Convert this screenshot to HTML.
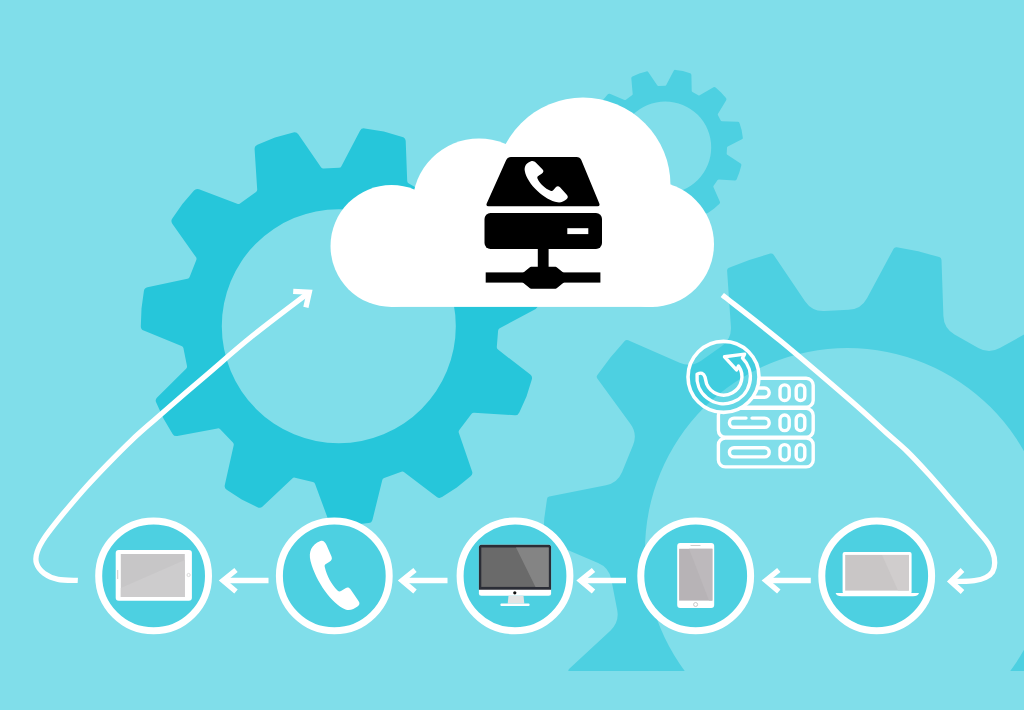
<!DOCTYPE html><html><head><meta charset="utf-8"><title>Cloud telephony</title><style>html,body{margin:0;padding:0;background:#80deea;overflow:hidden}svg{display:block}</style></head><body><svg width="1024" height="710" viewBox="0 0 1024 710"><clipPath id="clipR"><rect x="0" y="0" width="1024" height="671"/></clipPath>
<path clip-path="url(#clipR)" fill="#4dd0e1" fill-rule="evenodd" d="M848.8,309.8 Q861.2,309.1 867.0,298.2 L893.6,248.7 Q894.6,246.8 896.8,247.2 L918.2,251.3 L939.2,257.1 Q941.4,257.7 941.5,259.9 L943.4,316.1 Q943.8,328.4 954.5,334.5 L978.3,347.9 Q989.0,354.0 999.8,348.0 L1049.0,320.7 Q1050.9,319.6 1052.5,321.1 L1068.3,336.1 L1082.9,352.4 Q1084.3,354.0 1083.2,355.9 L1054.4,404.3 Q1048.2,414.9 1053.8,425.7 L1067.5,451.9 Q1073.1,462.8 1085.4,463.7 L1141.5,467.7 Q1143.7,467.9 1144.2,470.1 L1149.2,491.3 L1152.5,512.9 Q1152.8,515.1 1150.8,516.0 L1100.3,540.7 Q1089.2,546.1 1088.1,558.4 L1085.5,585.5 Q1084.3,597.8 1094.2,605.2 L1139.1,639.0 Q1140.9,640.3 1140.2,642.4 L1132.9,662.9 L1124.0,682.9 Q1123.1,684.9 1120.9,684.6 L1065.0,678.1 Q1052.8,676.6 1045.2,686.3 L1028.3,707.8 Q1020.7,717.5 1025.0,729.0 L1044.6,781.7 Q1045.3,783.8 1043.6,785.2 L1026.3,798.5 L1008.1,810.5 Q1006.2,811.7 1004.5,810.3 L961.1,774.6 Q951.6,766.7 939.9,770.8 L914.1,779.7 Q902.5,783.7 899.8,795.8 L887.8,850.7 Q887.3,852.9 885.1,853.0 L863.4,854.9 L841.6,855.1 Q839.4,855.2 838.7,853.1 L821.5,799.5 Q817.7,787.8 805.7,784.9 L779.2,778.5 Q767.2,775.6 758.5,784.3 L718.7,824.0 Q717.1,825.5 715.1,824.5 L695.8,814.3 L677.4,802.7 Q675.5,801.5 676.1,799.4 L690.5,745.1 Q693.7,733.1 685.1,724.2 L667.7,706.1 Q659.1,697.2 647.0,699.9 L592.2,712.3 Q590.1,712.8 589.0,710.9 L578.0,692.0 L568.6,672.3 Q567.7,670.3 569.3,668.8 L610.6,630.4 Q619.5,622.1 617.2,610.1 L611.2,578.9 Q608.9,567.4 598.1,562.9 L544.9,540.3 Q542.9,539.5 543.1,537.4 L544.3,518.2 L547.0,499.1 Q547.2,497.0 549.3,496.6 L606.0,485.3 Q617.6,483.0 622.1,472.1 L633.0,445.3 Q637.7,433.9 630.5,424.0 L597.3,378.5 Q596.0,376.7 597.4,375.0 L610.4,357.5 L624.7,341.0 Q626.1,339.3 628.2,340.2 L679.6,362.8 Q690.9,367.8 701.1,360.7 L721.6,346.3 Q731.7,339.2 730.9,326.8 L727.1,270.8 Q726.9,268.6 729.0,267.8 L749.3,259.9 L770.2,253.6 Q772.4,253.0 773.6,254.8 L805.0,301.3 Q812.0,311.6 824.4,311.0Z M645.0,550.5 a202.5,202.5 0 1,0 405.0,0 a202.5,202.5 0 1,0 -405.0,0Z"/>
<path fill="#4dd0e1" fill-rule="evenodd" d="M665.1,85.7 Q666.0,85.6 666.4,84.8 L673.7,70.8 Q674.3,69.6 675.6,69.9 L682.9,71.1 L690.1,73.2 Q691.3,73.6 691.4,74.9 L691.7,90.7 Q691.8,91.6 692.5,92.0 L698.3,95.2 Q699.0,95.7 699.7,95.2 L713.5,87.3 Q714.6,86.7 715.6,87.5 L721.1,92.5 L726.0,98.1 Q726.8,99.1 726.2,100.2 L718.0,113.8 Q717.5,114.6 718.0,115.3 L720.7,120.4 Q721.2,121.2 722.0,121.2 L737.9,121.7 Q739.2,121.7 739.5,123.0 L741.6,130.1 L742.8,137.4 Q743.0,138.7 741.9,139.3 L727.8,146.6 Q727.0,147.0 727.0,147.8 L726.7,153.4 Q726.6,154.3 727.3,154.8 L740.6,163.5 Q741.7,164.2 741.3,165.5 L739.3,172.6 L736.6,179.5 Q736.1,180.7 734.7,180.6 L718.9,179.4 Q718.1,179.4 717.6,180.1 L713.6,185.7 Q713.1,186.4 713.5,187.2 L719.9,201.7 Q720.5,202.9 719.5,203.7 L713.9,208.7 L707.9,213.0 Q706.8,213.7 705.7,212.9 L693.1,203.4 Q692.4,202.9 691.6,203.2 L685.0,205.9 Q684.2,206.2 684.1,207.0 L681.6,222.7 Q681.4,224.0 680.1,224.2 L672.8,225.3 L665.4,225.6 Q664.1,225.7 663.6,224.5 L658.2,209.5 Q657.9,208.8 657.1,208.6 L648.2,206.7 Q647.3,206.6 646.8,207.2 L635.8,218.6 Q634.9,219.6 633.7,219.0 L627.0,215.8 L620.8,211.8 Q619.7,211.1 620.0,209.8 L624.0,194.5 Q624.2,193.7 623.6,193.1 L618.8,188.1 Q618.2,187.5 617.4,187.7 L602.0,191.4 Q600.7,191.8 600.0,190.6 L596.1,184.3 L593.0,177.6 Q592.5,176.4 593.4,175.5 L605.1,164.7 Q605.7,164.2 605.5,163.3 L604.1,156.6 Q604.0,155.7 603.2,155.5 L588.2,150.3 Q586.9,149.8 587.0,148.5 L587.2,141.1 L588.2,133.7 Q588.3,132.4 589.6,132.2 L605.3,129.5 Q606.1,129.4 606.4,128.6 L608.9,122.1 Q609.2,121.3 608.7,120.6 L598.9,108.2 Q598.0,107.1 598.8,106.0 L603.0,99.9 L607.8,94.3 Q608.6,93.3 609.8,93.8 L624.5,99.9 Q625.2,100.3 625.9,99.8 L632.0,95.3 Q632.7,94.8 632.7,94.0 L631.3,78.2 Q631.2,76.9 632.4,76.4 L639.3,73.5 L646.4,71.4 Q647.7,71.1 648.4,72.2 L657.2,85.3 Q657.7,86.1 658.6,86.0Z M619.2,147.4 a46.0,46.0 0 1,0 92.0,0 a46.0,46.0 0 1,0 -92.0,0Z"/>
<path fill="#26c6da" fill-rule="evenodd" d="M339.0,167.8 Q340.7,167.7 341.4,166.2 L360.0,130.8 Q361.5,127.9 364.7,128.4 L383.8,131.6 L402.4,136.9 Q405.5,137.8 405.7,141.0 L407.2,181.0 Q407.3,182.7 408.8,183.5 L425.9,193.2 Q427.3,193.9 428.7,193.2 L465.1,174.6 Q467.9,173.2 470.2,175.3 L483.2,187.4 L494.8,200.7 Q496.9,203.1 495.4,205.9 L475.6,241.6 Q474.8,243.0 475.6,244.5 L484.1,260.7 Q484.8,262.1 486.4,262.3 L527.1,266.3 Q530.2,266.6 531.0,269.6 L535.4,286.8 L538.0,304.3 Q538.4,307.4 535.7,308.9 L499.7,328.3 Q498.3,329.1 498.1,330.7 L496.8,347.0 Q496.7,348.6 498.0,349.6 L530.3,374.6 Q532.8,376.5 531.8,379.5 L526.5,396.4 L519.3,412.6 Q518.1,415.5 514.9,415.3 L474.1,412.7 Q472.5,412.6 471.6,413.8 L459.3,429.9 Q458.3,431.2 458.8,432.7 L472.1,471.4 Q473.1,474.4 470.6,476.3 L456.8,487.5 L442.0,497.1 Q439.3,498.8 436.8,496.9 L404.2,472.2 Q402.9,471.3 401.4,471.8 L384.2,477.9 Q382.6,478.4 382.3,480.0 L372.5,519.7 Q371.7,522.8 368.6,523.1 L351.0,525.0 L333.3,525.0 Q330.1,525.1 329.1,522.1 L315.0,483.7 Q314.4,482.2 312.8,481.9 L295.0,477.7 Q293.5,477.3 292.3,478.4 L262.6,506.5 Q260.3,508.7 257.5,507.3 L241.7,499.4 L226.7,489.8 Q224.1,488.1 224.8,485.0 L233.7,445.2 Q234.0,443.6 232.9,442.4 L220.2,429.3 Q219.0,428.1 217.5,428.4 L177.3,436.0 Q174.2,436.6 172.6,433.9 L163.6,418.7 L156.2,402.6 Q154.8,399.7 157.1,397.5 L186.1,368.8 Q187.3,367.6 187.0,366.0 L183.4,348.1 Q183.0,346.5 181.5,345.9 L143.7,330.6 Q140.7,329.4 140.8,326.3 L141.5,308.6 L143.9,291.0 Q144.4,287.9 147.5,287.3 L187.4,278.8 Q189.0,278.4 189.6,276.9 L196.3,259.9 Q196.9,258.4 195.9,257.1 L172.3,223.7 Q170.5,221.1 172.3,218.5 L182.4,204.0 L194.0,190.6 Q196.0,188.2 199.0,189.3 L237.2,203.8 Q238.7,204.4 240.0,203.4 L256.0,192.0 Q257.3,191.0 257.2,189.4 L254.6,149.2 Q254.4,146.0 257.4,144.8 L275.0,137.6 L293.3,132.4 Q296.4,131.5 298.3,134.2 L321.0,167.3 Q321.9,168.7 323.6,168.6Z M221.8,326.2 a117.0,117.0 0 1,0 234.0,0 a117.0,117.0 0 1,0 -234.0,0Z"/>
<g fill="#fff"><circle cx="391.5" cy="246" r="61"/><circle cx="479" cy="205" r="66.5"/><circle cx="583" cy="185" r="87.5"/><circle cx="651.3" cy="244.3" r="62.7"/><rect x="391" y="200" width="262.6" height="106.9"/></g>
<g fill="#000"><path d="M511,157 H576.5 Q580,157 581.3,160 L599.3,203.5 Q600.3,206.3 597.5,206.3 H488.5 Q485.7,206.3 486.7,203.5 L506.2,160 Q507.5,157 511,157Z"/><rect x="484.5" y="213" width="117.5" height="36" rx="6"/><rect x="537.8" y="247" width="10.8" height="27"/><rect x="485.7" y="272.4" width="114.7" height="10.2"/><path d="M531,268.6 H555.6 L563,274.5 V281 L555.6,286.9 H531 L523.6,281 V274.5Z" stroke="#000" stroke-width="3.5" stroke-linejoin="round"/></g>
<rect x="567.3" y="228.2" width="21" height="5.9" fill="#fff"/>
<path fill="#fff" d="M531,161.2 C533,160.5 534.5,161.3 536,162.8 L542.6,169.6 C543.9,171 543.6,172.5 542,173.5 L538.2,176 C537.2,176.7 537.1,177.6 537.6,178.8 C540,184 545,188.5 550.5,190.8 C551.8,191.3 552.6,191 553.4,190 L556,187 C557.3,185.8 558.8,186 560,187.3 L567,195 C568.3,196.6 568,198 566.5,199.2 C564,201.2 561,202.8 557.5,202.3 C545,200.5 527,184 524.8,171 C524,166 526.5,162.8 531,161.2Z"/>
<g fill="none" stroke="#fff" stroke-width="5.3" stroke-linecap="butt" stroke-linejoin="miter"><path d="M77.8,580.4 C74.5,580.2 63.6,580.6 58.0,579.4 C52.4,578.2 47.7,576.1 44.1,573.4 C40.5,570.7 37.6,566.9 36.5,563.3 C35.4,559.7 35.7,556.2 37.2,551.8 C38.7,547.3 41.1,542.9 45.4,536.6 C49.7,530.3 56.4,522.0 63.1,513.8 C69.9,505.6 78.3,495.6 85.9,487.2 C93.5,478.8 101.1,470.9 108.7,463.1 C116.3,455.3 124.0,447.5 131.6,440.3 C139.2,433.1 142.0,430.8 154.4,420.0 C166.8,409.2 189.6,389.4 206.0,375.4 C222.4,361.4 235.5,349.6 252.6,335.8 C269.7,322.0 299.4,299.8 308.8,292.6"/><path d="M293.2,291.3 L309.3,292.2 L305.9,307.3"/><path d="M722.3,295.0 C731.9,302.6 758.5,322.8 780.0,340.5 C801.5,358.2 833.4,385.7 851.1,401.0 C868.8,416.3 876.7,424.2 886.0,432.5 C895.3,440.8 899.6,443.9 906.8,451.0 C914.0,458.1 921.8,466.5 929.3,474.8 C936.8,483.1 944.8,492.5 951.9,500.8 C959.0,509.1 966.6,517.8 972.2,524.4 C977.8,531.0 982.3,535.7 985.7,540.2 C989.1,544.7 991.0,547.7 992.5,551.5 C994.0,555.3 994.7,559.4 994.7,562.8 C994.7,566.2 994.0,569.3 992.5,571.8 C991.0,574.2 988.7,576.0 985.7,577.5 C982.7,579.0 978.5,580.0 974.4,580.6 C970.3,581.2 964.7,581.3 960.9,581.4 C957.1,581.5 953.1,581.4 951.5,581.4"/><path d="M962.5,570 L950.8,581.4 L962.5,592"/></g>
<circle cx="153.6" cy="575.9" r="54.9" fill="#4dd0e1" stroke="#fff" stroke-width="7"/>
<circle cx="334.3" cy="575.9" r="54.9" fill="#4dd0e1" stroke="#fff" stroke-width="7"/>
<circle cx="515.0" cy="575.9" r="54.9" fill="#4dd0e1" stroke="#fff" stroke-width="7"/>
<circle cx="695.7" cy="575.9" r="54.9" fill="#4dd0e1" stroke="#fff" stroke-width="7"/>
<circle cx="876.7" cy="575.9" r="54.9" fill="#4dd0e1" stroke="#fff" stroke-width="7"/>
<g fill="none" stroke="#fff" stroke-width="5.3" stroke-linecap="butt" stroke-linejoin="miter"><path d="M223.5,580.5 H268.5"/><path d="M236.0,570 L223.0,580.5 L236.0,591.5"/></g>
<g fill="none" stroke="#fff" stroke-width="5.3" stroke-linecap="butt" stroke-linejoin="miter"><path d="M402.5,580.5 H447.5"/><path d="M415.0,570 L402.0,580.5 L415.0,591.5"/></g>
<g fill="none" stroke="#fff" stroke-width="5.3" stroke-linecap="butt" stroke-linejoin="miter"><path d="M581.0,580.5 H626.0"/><path d="M593.5,570 L580.5,580.5 L593.5,591.5"/></g>
<g fill="none" stroke="#fff" stroke-width="5.3" stroke-linecap="butt" stroke-linejoin="miter"><path d="M766.3,580.5 H810.8"/><path d="M778.8,570 L765.8,580.5 L778.8,591.5"/></g>
<rect x="115.7" y="550" width="76.2" height="50.8" rx="3" fill="#fff"/><rect x="120.8" y="554" width="64" height="43" fill="#c7c6c7"/><path d="M120.8,597 V588 L184.8,560 V597Z" fill="#cdcccd"/><circle cx="188.6" cy="575" r="1.6" fill="none" stroke="#ccc" stroke-width="0.7"/><rect x="117.2" y="570" width="1" height="9" fill="#ccc"/>
<path fill="#fff" d="M320.4,541.1 C323,540 325,542 326.5,545 L331.5,556.5 C332.5,559 331.5,560.5 329.5,561.8 L325.5,564.3 C324.5,565 324.5,566 324.9,567.5 C327,576 331,584 337.5,590.4 C338.8,591.6 339.8,591.6 341,591 L345.5,588.2 C347.3,587 349,587.2 350.5,589.3 L358.5,601 C360,603.3 359.8,605 357.5,606.5 C354,609 350,611 345.5,609.5 C332,604 316,582 310.5,561 C308.5,552 311,545 320.4,541.1Z"/>
<rect x="478.9" y="544.8" width="72.2" height="51" rx="2.5" fill="#fff"/><path d="M478.9,589.8 V547.3 Q478.9,544.8 481.4,544.8 H548.6 Q551.1,544.8 551.1,547.3 V589.8Z" fill="#2b2d36"/><rect x="481.3" y="547.5" width="67.4" height="39.4" fill="#6a6a6a"/><path d="M516,547.5 H548.7 V586.9 H535.5Z" fill="#848484"/><circle cx="514.8" cy="592.8" r="1.6" fill="#111"/><path d="M508.5,595.8 H523.5 L524.3,603.6 H507.7Z" fill="#e4e4e4"/><rect x="500.4" y="603.4" width="29.2" height="2.6" rx="1" fill="#fff"/>
<rect x="677.2" y="543" width="37" height="65" rx="3" fill="#fff"/><rect x="679.1" y="548.8" width="33.3" height="51.8" fill="#b7b3b6"/><path d="M689,548.8 H712.4 V600.6 H709Z" fill="#bdb9bc"/><circle cx="695.6" cy="604.5" r="2" fill="none" stroke="#bbb" stroke-width="0.8"/><rect x="690.5" y="545" width="10" height="1" fill="#ccc"/>
<rect x="842.6" y="552.1" width="69" height="42" rx="2" fill="#fff"/><rect x="845.2" y="554.9" width="63.7" height="35.7" fill="#c9c6c6"/><path d="M882,554.9 H908.9 V590.6 H898Z" fill="#d0cdcd"/><path d="M835.6,593 H919 Q918,596.2 913,596.2 H841.6 Q836.6,596.2 835.6,593Z" fill="#fff"/>
<mask id="mk"><rect x="0" y="0" width="1024" height="710" fill="#fff"/><circle cx="723.5" cy="376.9" r="36" fill="#000"/></mask>
<g mask="url(#mk)" fill="none" stroke="#fff" stroke-width="3.4" stroke-linejoin="round" stroke-linecap="round">
<rect x="718.4" y="378.3" width="94.8" height="28.9" rx="7"/>
<rect x="729.4" y="388.0" width="39.8" height="9.2" rx="4.6"/>
<rect x="780" y="384.9" width="9.2" height="15.6" rx="4.6"/>
<rect x="796.2" y="384.9" width="8.6" height="15.6" rx="4.3"/>
<rect x="718.4" y="408.4" width="94.8" height="28.9" rx="7"/>
<path d="M746,418.1 H734 a4.6,4.6 0 0,0 0,9.2 H764.6 a4.6,4.6 0 0,0 0,-9.2 H752"/>
<rect x="780" y="415.0" width="9.2" height="15.6" rx="4.6"/>
<rect x="796.2" y="415.0" width="8.6" height="15.6" rx="4.3"/>
<rect x="718.4" y="438.0" width="94.8" height="28.9" rx="7"/>
<rect x="729.4" y="447.7" width="39.8" height="9.2" rx="4.6"/>
<rect x="780" y="444.6" width="9.2" height="15.6" rx="4.6"/>
<rect x="796.2" y="444.6" width="8.6" height="15.6" rx="4.3"/>
</g>
<circle cx="723.5" cy="376.9" r="35.5" fill="#26c6da" fill-opacity="0.3" stroke="#fff" stroke-width="3.6"/>
<path fill="none" stroke="#fff" stroke-width="3.4" stroke-linejoin="round" stroke-linecap="round" d="M697.1,374.2 A26.7,26.7 0 1,0 742.5,358.1 L744.6,354.1 L724.5,356.8 L736.5,369.9 L738.5,366.0 A18.4,18.4 0 1,1 706.6,383.9 L705.0,377.0 Q703.0,371.1 697.1,374.2 Z"/></svg></body></html>
